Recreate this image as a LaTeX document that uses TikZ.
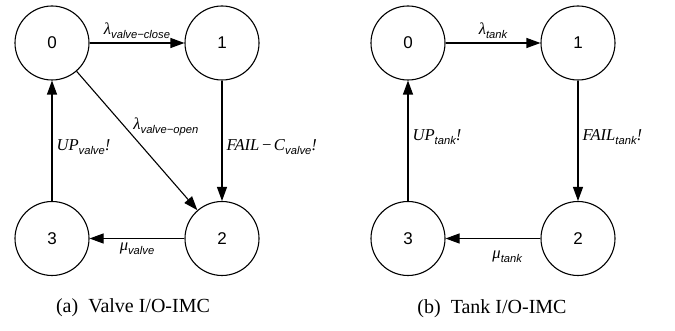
\documentclass[tikz,border=0pt]{standalone}
\usepackage{fontspec}
\setmainfont{Liberation Serif}
\setsansfont{Liberation Sans}
\usetikzlibrary{arrows.meta}
\newcommand{\sublbl}[2]{\textit{#1}\raisebox{-0.55ex}{\fontsize{5.6}{6}\selectfont\sffamily\itshape #2}}

\begin{document}
\begin{tikzpicture}[x=0.5pt,y=-0.5pt,
    state/.style={circle,draw,line width=0.55pt,minimum size=37pt,inner sep=0pt,font=\fontsize{8.5}{9}\selectfont\sffamily},
    trans/.style={-{Triangle[length=7pt,width=5pt]},line width=0.55pt},
    lbl/.style={font=\fontsize{8.3}{9}\selectfont,inner sep=2pt}]
    \useasboundingbox (0,0) rectangle (675,331);

    % valve
    \node[state] (v0) at (52,43) {0};
    \node[state] (v1) at (222,43) {1};
    \node[state] (v2) at (222,238.5) {2};
    \node[state] (v3) at (52,238.5) {3};
    \draw[trans] (v0) -- node[lbl,above]{\sublbl{λ}{valve−close}} (v1);
    \draw[trans] (v1) -- node[lbl,right,pos=0.55]{\sublbl{FAIL\kern0.1em−\kern0.1em C}{valve}\textit{!}} (v2);
    \draw[trans] (v0) -- node[lbl,right,pos=0.4,xshift=2pt]{\sublbl{λ}{valve−open}} (v2);
    \draw[trans] (v2) -- node[lbl,below]{\sublbl{μ}{valve}} (v3);
    \draw[trans] (v3) -- node[lbl,right,pos=0.45]{\sublbl{UP}{valve}\textit{!}} (v0);
    \node (capa) at (133,308) {(a)\hspace{0.5em}Valve I/O-IMC};

    % tank
    \node[state] (t0) at (408,43) {0};
    \node[state] (t1) at (578,43) {1};
    \node[state] (t2) at (578,238.5) {2};
    \node[state] (t3) at (408,238.5) {3};
    \draw[trans] (t0) -- node[lbl,above]{\sublbl{λ}{tank}} (t1);
    \draw[trans] (t1) -- node[lbl,right,pos=0.47]{\sublbl{FAIL}{tank}\textit{!}} (t2);
    \draw[trans] (t2) -- node[lbl,below,pos=0.35,yshift=-4pt]{\sublbl{μ}{tank}} (t3);
    \draw[trans] (t3) -- node[lbl,right,pos=0.53]{\sublbl{UP}{tank}\textit{!}} (t0);
    \node (capb) at (492,309) {(b)\hspace{0.5em}Tank I/O-IMC};
\end{tikzpicture}
\end{document}
